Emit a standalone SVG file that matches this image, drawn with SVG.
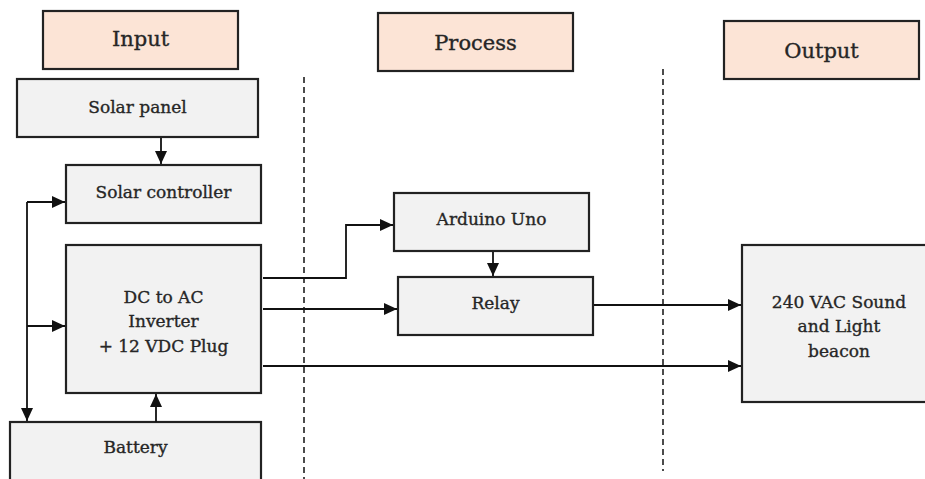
<svg xmlns="http://www.w3.org/2000/svg" width="925" height="479" viewBox="0 0 925 479">
  <style>
    .hdr { fill: #fce4d6; stroke: #222; stroke-width: 2.2; }
    .box { fill: #f2f2f2; stroke: #222; stroke-width: 2.2; }
    .lbl { font-family: "DejaVu Serif", "Liberation Serif", serif; font-size: 17px; fill: #262626; stroke: #262626; stroke-width: 0.35; text-anchor: middle; }
    .hlbl { font-family: "DejaVu Serif", "Liberation Serif", serif; font-size: 21px; fill: #262626; stroke: #262626; stroke-width: 0.35; text-anchor: middle; }
    .wire { fill: none; stroke: #111; stroke-width: 1.8; }
    .arr { marker-end: url(#head); }
    .stage { fill: none; stroke: #111; stroke-width: 1.5; stroke-dasharray: 6 4; }
  </style>
  <defs>
    <marker id="head" markerUnits="userSpaceOnUse" markerWidth="14" markerHeight="12" refX="13" refY="6" orient="auto">
      <path d="M0,0 L13,6 L0,12 z" fill="#111"/>
    </marker>
  </defs>
  <rect width="925" height="479" fill="#ffffff"/>

  <!-- stage separators -->
  <g id="separators">
    <line class="stage" x1="304" y1="77" x2="304" y2="479"/>
    <line class="stage" x1="663" y1="69" x2="663" y2="471"/>
  </g>

  <!-- stage headings -->
  <g id="hdr-input">
    <rect class="hdr" x="43" y="11" width="195" height="58"/>
    <text class="hlbl" x="140.5" y="46">Input</text>
  </g>
  <g id="hdr-process">
    <rect class="hdr" x="378" y="13" width="195" height="58"/>
    <text class="hlbl" x="475.5" y="50">Process</text>
  </g>
  <g id="hdr-output">
    <rect class="hdr" x="724" y="21" width="195" height="58"/>
    <text class="hlbl" x="821.5" y="58">Output</text>
  </g>

  <!-- blocks -->
  <g id="solar-panel">
    <rect class="box" x="17" y="79" width="241" height="58"/>
    <text class="lbl" x="137.5" y="113">Solar panel</text>
  </g>
  <g id="solar-controller">
    <rect class="box" x="66" y="165" width="195" height="58"/>
    <text class="lbl" x="163.5" y="198">Solar controller</text>
  </g>
  <g id="inverter">
    <rect class="box" x="66" y="245" width="195" height="148"/>
    <text class="lbl" x="163.5" y="303">DC to AC</text>
    <text class="lbl" x="163.5" y="327">Inverter</text>
    <text class="lbl" x="163.5" y="352">+ 12 VDC Plug</text>
  </g>
  <g id="battery">
    <rect class="box" x="10" y="422" width="251" height="62"/>
    <text class="lbl" x="135.5" y="453">Battery</text>
  </g>
  <g id="arduino">
    <rect class="box" x="394" y="193" width="195" height="58"/>
    <text class="lbl" x="491.5" y="225">Arduino Uno</text>
  </g>
  <g id="relay">
    <rect class="box" x="398" y="277" width="195" height="58"/>
    <text class="lbl" x="495.5" y="309">Relay</text>
  </g>
  <g id="beacon">
    <rect class="box" x="742" y="245" width="195" height="157"/>
    <text class="lbl" x="839" y="308">240 VAC Sound</text>
    <text class="lbl" x="839" y="332">and Light</text>
    <text class="lbl" x="839" y="357">beacon</text>
  </g>

  <!-- connectors -->
  <g id="connectors">
    <line class="wire arr" x1="161" y1="138" x2="161" y2="164"/>
    <polyline class="wire arr" points="27,202 65,202"/>
    <line class="wire" x1="27" y1="202" x2="27" y2="326"/>
    <polyline class="wire arr" points="27,326 27,421"/>
    <line class="wire arr" x1="27" y1="326" x2="65" y2="326"/>
    <line class="wire arr" x1="156" y1="422" x2="156" y2="394"/>
    <polyline class="wire arr" points="263,278 346,278 346,225 393,225"/>
    <line class="wire arr" x1="263" y1="309" x2="397" y2="309"/>
    <line class="wire arr" x1="493" y1="252" x2="493" y2="276"/>
    <line class="wire arr" x1="594" y1="305" x2="741" y2="305"/>
    <line class="wire arr" x1="263" y1="366" x2="741" y2="366"/>
  </g>
</svg>
